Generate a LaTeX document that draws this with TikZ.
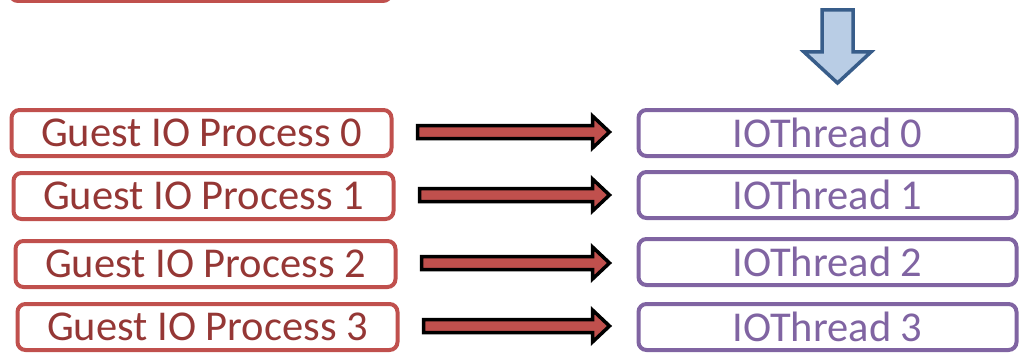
\documentclass[tikz,border=0pt]{standalone}
\usepackage{fontspec}
\setmainfont{Carlito}
\usetikzlibrary{calc}
\definecolor{gred}{HTML}{C0504D}
\definecolor{gtxt}{HTML}{953735}
\definecolor{tpur}{HTML}{8064A2}
\definecolor{bfill}{HTML}{B9CDE5}
\definecolor{bline}{HTML}{385D8A}
\tikzset{g/.style={draw=gred,text=gtxt,line width=4pt,rounded corners=8pt,minimum width=380pt,minimum height=46pt,inner sep=0pt,font=\fontsize{42.5}{42.5}\selectfont},
 t/.style={draw=tpur,text=tpur,line width=4pt,rounded corners=8pt,minimum width=378pt,minimum height=46pt,inner sep=0pt,font=\fontsize{42.5}{42.5}\selectfont},
 flow/.style={draw=black,fill=gred,line width=3.5pt,miter limit=10},
 down/.style={draw=bline,fill=bfill,line width=3.5pt}}

\begin{document}
\begin{tikzpicture}[x=1pt,y=-1pt]
\useasboundingbox (0,0) rectangle (1020,353);
\clip (0,0) rectangle (1020,353);
\draw[g] (10,-60) rectangle (391,1);
\foreach \i/\xg/\y/\yt in {0/201.5/133/133,1/203.5/196/195,2/205.5/264/262,3/207.5/327/327}{
 \node[g](g\i) at(\xg,\y){Guest IO Process \i};
 \node[t](p\i) at(827.5,\yt){IOThread \i};
 \coordinate (s\i) at ($(g\i.east)+(24,-1)$);
 \coordinate (e\i) at ($(p\i.west|-s\i)+(-27,0)$);
 \draw[flow] ($(s\i)+(0,-6.5)$) -- ($(e\i)+(-17,-6.5)$) -- ($(e\i)+(-17,-16)$) -- (e\i)
  -- ($(e\i)+(-17,16)$) -- ($(e\i)+(-17,6.5)$) -- ($(s\i)+(0,6.5)$) -- cycle;
}
\draw[down] (822,10) -- (853,10) -- (853,52) -- (871,52) -- (837.5,83) -- (804,52) -- (822,52) -- cycle;
\end{tikzpicture}
\end{document}
